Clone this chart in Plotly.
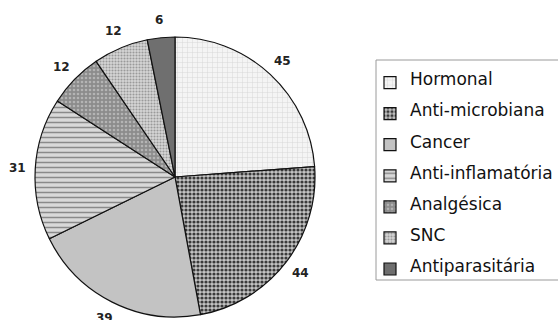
import math
import plotly.graph_objects as go

# Therapeutic classes and counts
categories = ["Hormonal", "Anti-microbiana", "Cancer", "Anti-inflamatória",
              "Analgésica", "SNC", "Antiparasitária"]
counts = [45, 44, 39, 31, 12, 12, 6]

# Grey fills and hatch patterns for each slice
fill_colors = ["#f4f4f4", "#c4c4c4", "#c3c3c3", "#d9d9d9", "#8c8c8c", "#d6d6d6", "#6f6f6f"]
pattern_shapes = ["+", ".", "", "-", ".", ".", ""]
pattern_fg = ["#cfcfcf", "#3a3a3a", "#c3c3c3", "#8a8a8a", "#b4b4b4", "#9a9a9a", "#6f6f6f"]
pattern_size = [5, 4, 4, 5, 4, 3, 4]
pattern_solidity = [0.15, 0.5, 0.3, 0.3, 0.35, 0.4, 0.3]

W, H = 558, 320
cx, cy, r = 175, 177, 140  # pie centre and radius, pixels

FONT = "DejaVu Sans, Arial, sans-serif"

# Legend entries padded to give the taller row spacing
legend_labels = [f"<br><span style='font-size:17px'>{c}</span><br> " for c in categories]

fig = go.Figure(go.Pie(
    labels=legend_labels,
    values=counts,
    sort=False,
    direction="clockwise",
    rotation=0,
    textinfo="none",
    hoverinfo="skip",
    marker=dict(
        colors=fill_colors,
        line=dict(color="#111111", width=1.2),
        pattern=dict(shape=pattern_shapes, fgcolor=pattern_fg, bgcolor=fill_colors,
                     size=pattern_size, solidity=pattern_solidity, fillmode="replace"),
    ),
    domain=dict(x=[(cx - r) / W, (cx + r) / W], y=[1 - (cy + r) / H, 1 - (cy - r) / H]),
))

# Value labels just outside each slice, at its mid-angle
total = sum(counts)
cum = 0
R_lab = r + 18
for v in counts:
    mid = (cum + v / 2) / total * 2 * math.pi
    cum += v
    px = cx + R_lab * math.sin(mid)
    py = cy - R_lab * math.cos(mid)
    fig.add_annotation(x=px / W, y=1 - py / H, xref="paper", yref="paper",
                       text=f"<b>{v}</b>", showarrow=False,
                       font=dict(family=FONT, size=12, color="#222222"),
                       xanchor="center", yanchor="middle")

# Legend frame (open on the right, running past the page edge)
fig.add_shape(type="rect", xref="paper", yref="paper",
              x0=376 / W, x1=1.02, y0=1 - 280 / H, y1=1 - 60 / H,
              line=dict(color="#9a9a9a", width=1), fillcolor="rgba(0,0,0,0)", layer="above")

fig.update_layout(
    width=W, height=H,
    margin=dict(l=0, r=0, t=0, b=0),
    paper_bgcolor="white",
    plot_bgcolor="white",
    font=dict(family=FONT, color="#111111"),
    showlegend=True,
    legend=dict(
        x=370 / W, y=1 - 62 / H, xanchor="left", yanchor="top",
        borderwidth=0, bgcolor="rgba(0,0,0,0)",
        font=dict(family=FONT, size=7.2, color="#111111"),
        traceorder="normal",
    ),
)

fig.write_html("out.html")
